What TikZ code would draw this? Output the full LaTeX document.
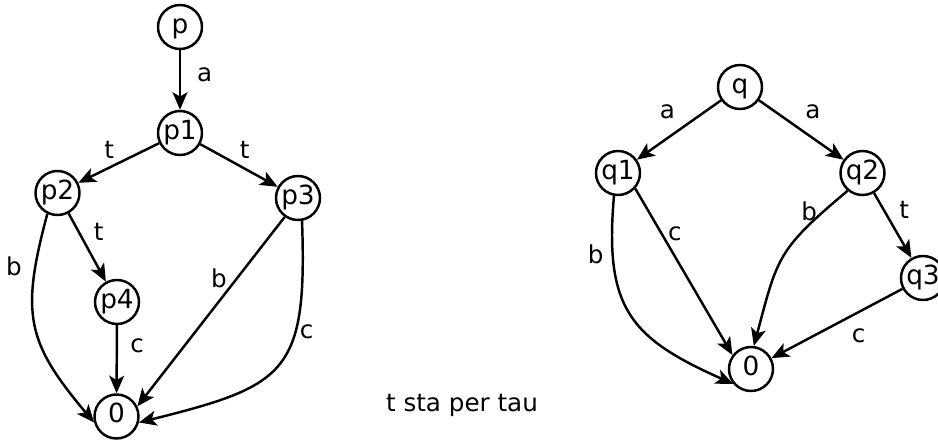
\documentclass[tikz,border=0pt]{standalone}
\usepackage{fontspec}
\setmainfont{DejaVu Sans}
\usetikzlibrary{arrows.meta}
\tikzset{
  % process states
  state/.style={circle, draw=black, line width=1.4pt, minimum size=0.88cm,
                inner sep=0pt, text height=0.73em, text depth=0pt,
                font=\fontsize{15}{17}\selectfont},
  % transitions between states
  trans/.style={-{Stealth[length=10pt, width=8.5pt, inset=2.5pt]}, line width=1.4pt},
  % action labels on transitions
  act/.style={font=\fontsize{14}{16}\selectfont, inner sep=2pt},
}

\begin{document}
\begin{tikzpicture}[x=0.02cm, y=0.02cm]
\useasboundingbox (0,0) rectangle (938,443);

% ── Process p ────────────────────────────────────────────────────────────────
\node[state] (p)  at (180,   416) {p};
\node[state] (p1) at (180,   310) {p1};
\node[state] (p2) at (57.5,  250) {p2};
\node[state] (p3) at (298,   245) {p3};
\node[state] (p4) at (117,   141) {p4};
\node[state] (z1) at (116.5, 26.5) {0};

\draw[trans] (p)  -- node[act, right=7pt, pos=0.42] {a} (p1);
\draw[trans] (p1) -- node[act, above left] {t} (p2);
\draw[trans] (p1) -- node[act, above right, pos=0.45] {t} (p3);
\draw[trans] (p2) -- node[act, above right=1pt] {t} (p4);
\draw[trans] (p4) -- node[act, right=5pt, pos=0.3] {c} (z1);
\draw[trans] (p2.-116) to[out=-105, in=130, looseness=1.25]
  node[act, left=5pt, pos=0.2] {b} (z1.195);
\draw[trans] (p3.235) -- node[act, left=3pt, pos=0.325] {b} (z1.26);
\draw[trans] (p3.-80) to[out=-88, in=14, looseness=1.5]
  node[act, right, pos=0.33] {c} (z1.-15);

% ── Process q ────────────────────────────────────────────────────────────────
\node[state] (q)  at (740,   356) {q};
\node[state] (q1) at (618,   270) {q1};
\node[state] (q2) at (862.5, 270) {q2};
\node[state] (q3) at (923,   165) {q3};
\node[state] (z2) at (751,   74)  {0};

\draw[trans] (q)  -- node[act, above left=2pt, pos=0.45] {a} (q1);
\draw[trans] (q)  -- node[act, above right=2pt, pos=0.45] {a} (q2);
\draw[trans] (q2) -- node[act, above right=1pt] {t} (q3);
\draw[trans] (q1.-42) -- node[act, right=1pt, pos=0.27] {c} (z2.143);
\draw[trans] (q1.-100) to[out=-95, in=156, looseness=1.3]
  node[act, left=2.5pt, pos=0.2] {b} (z2.220);
\draw[trans] (q2.-130) to[out=-140, in=75, looseness=1.3]
  node[act, left=1pt, pos=0.13] {b} (z2.83);
\draw[trans] (q3) -- node[act, below right=2pt, pos=0.45] {c} (z2);

% ── Note ─────────────────────────────────────────────────────────────────────
\node[act] (note) at (462, 38) {t sta per tau};

\end{tikzpicture}
\end{document}
